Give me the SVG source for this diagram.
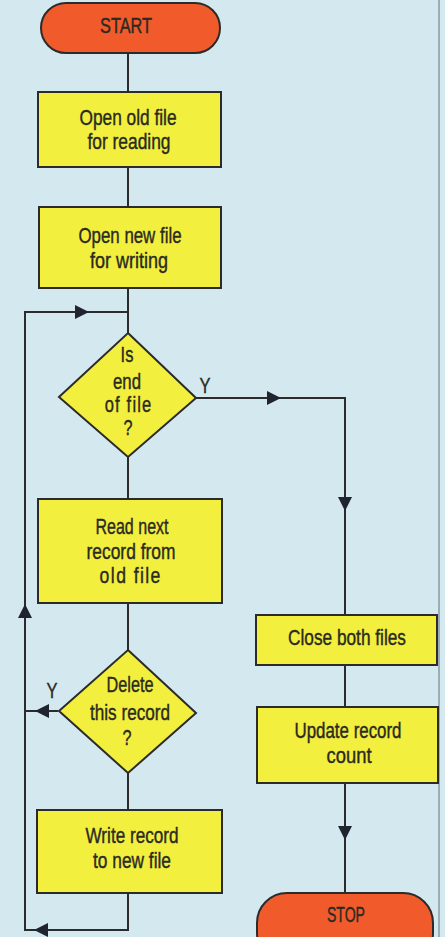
<svg xmlns="http://www.w3.org/2000/svg" xmlns:xlink="http://www.w3.org/1999/xlink" width="445" height="937" viewBox="0 0 445 937">
<style>
.bg{fill:#d4e8ef}
.box{fill:#f2ef3e;stroke:#2b2b2b;stroke-width:2}
.term{fill:#f15a2b;stroke:#2b2b2b;stroke-width:2}
.ln{fill:none;stroke:#2b2b2b;stroke-width:2}
text{font-family:"Liberation Sans","Arimo",sans-serif;font-size:22px;fill:#2a2a22;stroke:#2a2a22;stroke-width:0.4;text-anchor:middle}
.ah{fill:#1f2430}
</style>
<defs>
<path id="ah" d="M0,0 L-14,-7 L-14,7 Z"/>
</defs>
<rect class="bg" x="0" y="0" width="445" height="937"/>
<line x1="439" y1="0" x2="439" y2="937" stroke="#8a9aa0" stroke-width="1.5"/>
<g id="connectors">
<path class="ln" d="M128,53 V92"/>
<path class="ln" d="M128,167 V207"/>
<path class="ln" d="M128,288 V333"/>
<path class="ln" d="M128,457 V499"/>
<path class="ln" d="M128,603 V650"/>
<path class="ln" d="M128,773 V810"/>
<path class="ln" d="M128,893 V930 H25 V312 H128"/>
<path class="ln" d="M196,398 H345 V615"/>
<path class="ln" d="M58,711 H25"/>
<path class="ln" d="M345,665 V707"/>
<path class="ln" d="M345,783 V893"/>
<use href="#ah" class="ah" transform="translate(89,312)"/>
<use href="#ah" class="ah" transform="translate(281,398)"/>
<use href="#ah" class="ah" transform="translate(345,511) rotate(90)"/>
<use href="#ah" class="ah" transform="translate(25,604) rotate(-90)"/>
<use href="#ah" class="ah" transform="translate(35,711) rotate(180)"/>
<use href="#ah" class="ah" transform="translate(34,930) rotate(180)"/>
<use href="#ah" class="ah" transform="translate(345,840) rotate(90)"/>
<text x="205" y="393" textLength="11" lengthAdjust="spacingAndGlyphs">Y</text>
<text x="52" y="698" textLength="11" lengthAdjust="spacingAndGlyphs">Y</text>
</g>
<g id="start">
<rect class="term" x="41" y="3" width="179" height="50" rx="25"/>
<text x="126" y="33" textLength="52" lengthAdjust="spacingAndGlyphs">START</text>
</g>
<g id="open-old">
<rect class="box" x="38" y="92" width="183" height="75"/>
<text x="128" y="125" textLength="97" lengthAdjust="spacingAndGlyphs">Open old file</text>
<text x="129" y="149" textLength="83" lengthAdjust="spacingAndGlyphs">for reading</text>
</g>
<g id="open-new">
<rect class="box" x="39" y="207" width="182" height="81"/>
<text x="130" y="243" textLength="103" lengthAdjust="spacingAndGlyphs">Open new file</text>
<text x="129" y="268" textLength="78" lengthAdjust="spacingAndGlyphs">for writing</text>
</g>
<g id="eof">
<polygon class="box" points="128,333 196,398 128,457 59,397"/>
<text transform="translate(127,362) scale(0.75,1)" x="0" y="0">Is</text>
<text x="127" y="389" textLength="28" lengthAdjust="spacingAndGlyphs">end</text>
<text transform="translate(128,412) scale(0.75,1)" x="0" y="0" textLength="62" lengthAdjust="spacing">of  file</text>
<text x="128" y="435" textLength="9" lengthAdjust="spacingAndGlyphs">?</text>
</g>
<g id="read">
<rect class="box" x="38" y="499" width="184" height="104"/>
<text x="132" y="534" textLength="73" lengthAdjust="spacingAndGlyphs">Read next</text>
<text x="131" y="559" textLength="89" lengthAdjust="spacingAndGlyphs">record from</text>
<text transform="translate(130,583) scale(0.8,1)" x="0" y="0" textLength="76" lengthAdjust="spacing">old file</text>
</g>
<g id="delete">
<polygon class="box" points="128,650 196,713 128,773 59,711"/>
<text x="130" y="692" textLength="47" lengthAdjust="spacingAndGlyphs">Delete</text>
<text x="130" y="720" textLength="80" lengthAdjust="spacingAndGlyphs">this record</text>
<text x="127" y="745" textLength="9" lengthAdjust="spacingAndGlyphs">?</text>
</g>
<g id="write">
<rect class="box" x="37" y="810" width="185" height="83"/>
<text x="132" y="843" textLength="93" lengthAdjust="spacingAndGlyphs">Write record</text>
<text x="132" y="868" textLength="78" lengthAdjust="spacingAndGlyphs">to new file</text>
</g>
<g id="close">
<rect class="box" x="256" y="615" width="181" height="50"/>
<text x="347" y="645" textLength="118" lengthAdjust="spacingAndGlyphs">Close both  files</text>
</g>
<g id="update">
<rect class="box" x="257" y="707" width="181" height="76"/>
<text x="348" y="738" textLength="107" lengthAdjust="spacingAndGlyphs">Update record</text>
<text x="349" y="763" textLength="45" lengthAdjust="spacingAndGlyphs">count</text>
</g>
<g id="stop">
<rect class="term" x="257" y="893" width="176" height="70" rx="30"/>
<text x="346" y="922" textLength="38" lengthAdjust="spacingAndGlyphs">STOP</text>
</g>
</svg>
